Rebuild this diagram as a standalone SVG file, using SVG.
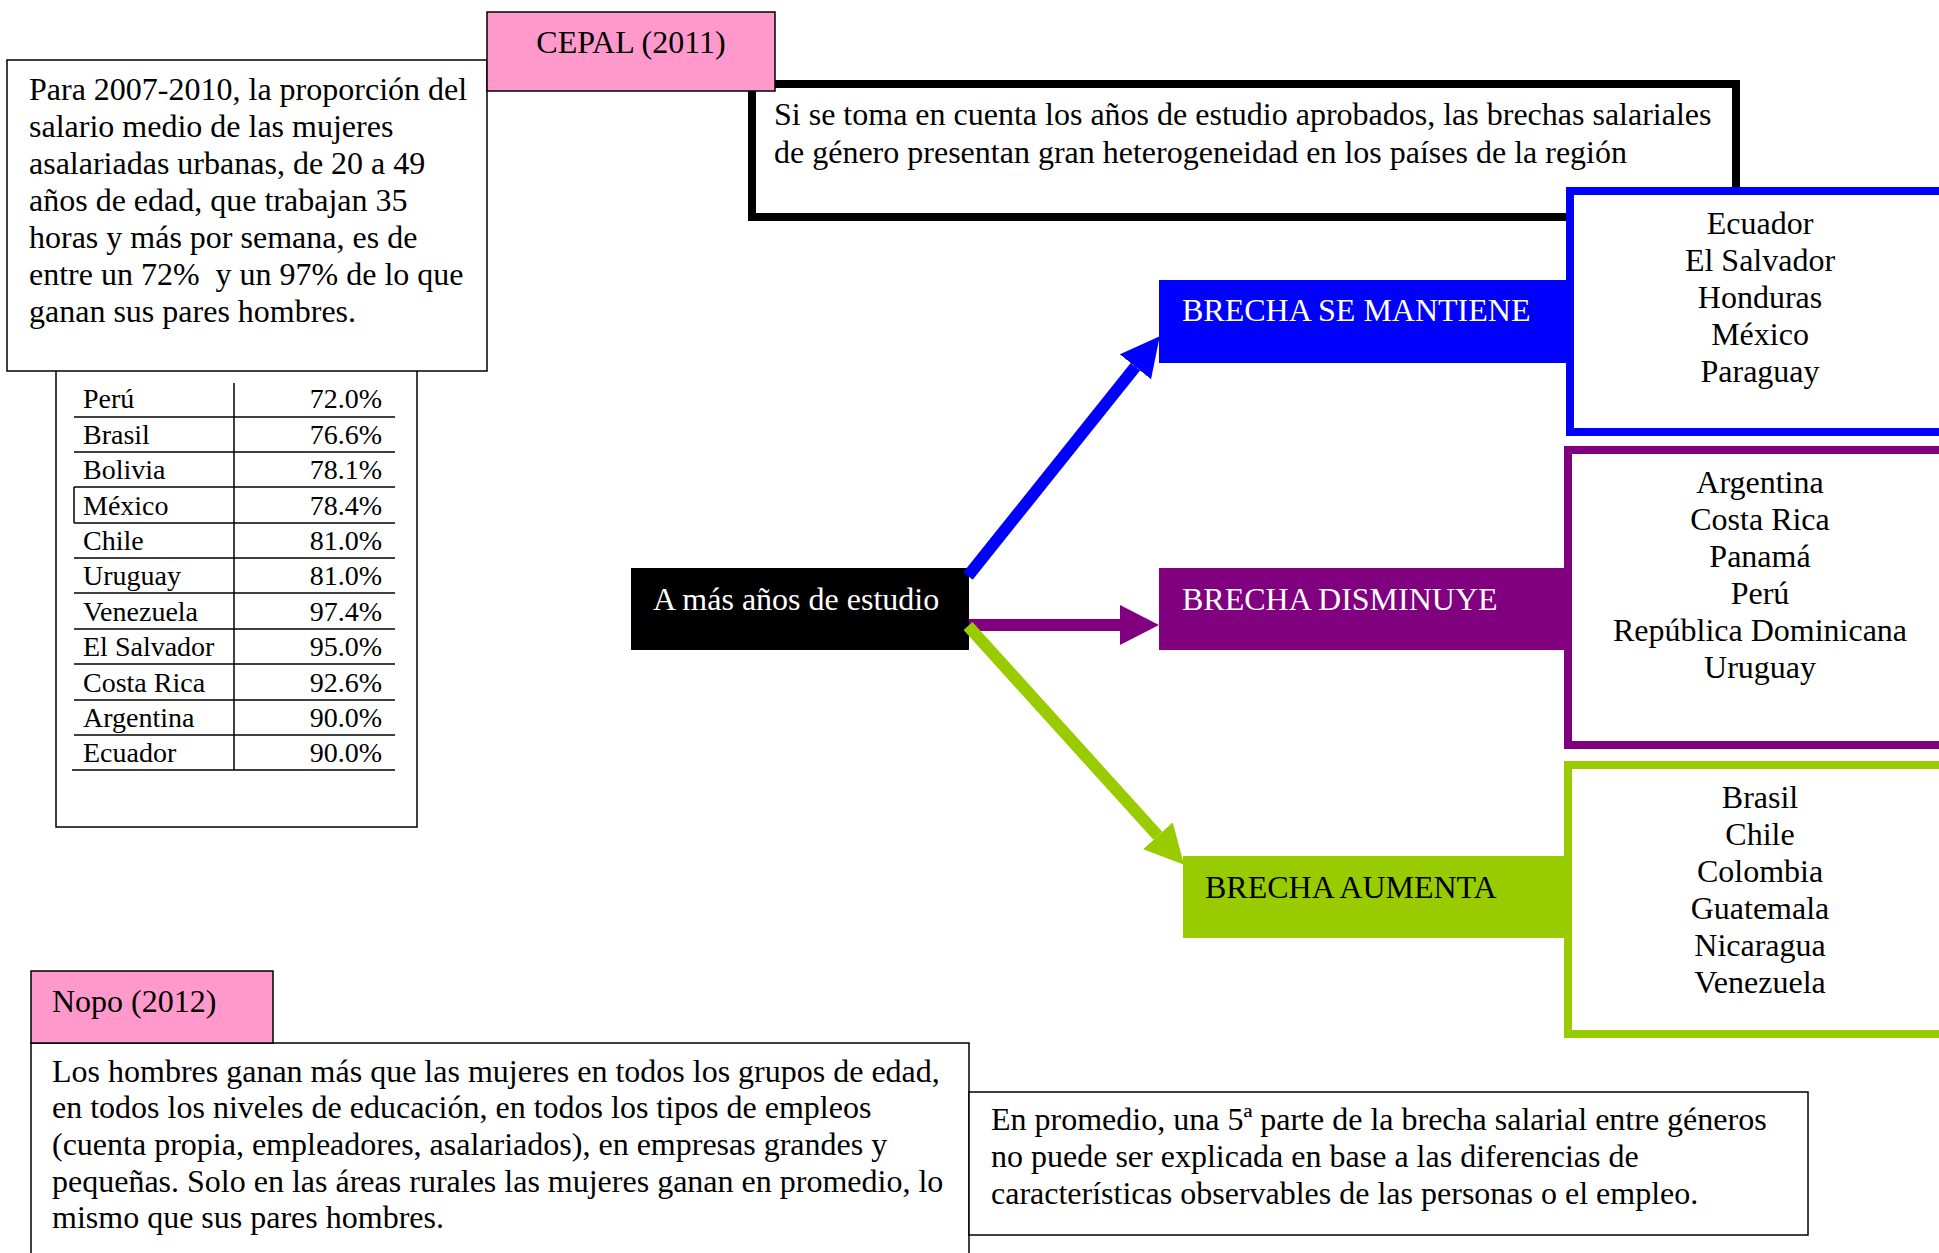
<svg xmlns="http://www.w3.org/2000/svg" width="1939" height="1253" viewBox="0 0 1939 1253">
<style>
.t{font-family:"Liberation Serif","Times New Roman",serif;font-size:32px;fill:#000}
.w{fill:#fff}
.tb{font-size:28px}
.c{text-anchor:middle}
.r{text-anchor:end}
.box{fill:#fff;stroke:#000;stroke-width:1.5}
.pink{fill:#FF99CC;stroke:#000;stroke-width:1.5}
.tl{stroke:#000;stroke-width:1.5;fill:none}
.conn{fill:none;stroke-width:12}
</style>
<defs>
<marker id="hb" markerUnits="userSpaceOnUse" viewBox="0 0 40 40" refX="0" refY="20" markerWidth="40" markerHeight="40" orient="auto"><path d="M0,0 L39,20 L0,40 z" fill="#0000FF"/></marker>
<marker id="hp" markerUnits="userSpaceOnUse" viewBox="0 0 40 40" refX="0" refY="20" markerWidth="40" markerHeight="40" orient="auto"><path d="M0,0 L39,20 L0,40 z" fill="#800080"/></marker>
<marker id="hg" markerUnits="userSpaceOnUse" viewBox="0 0 40 40" refX="0" refY="20" markerWidth="40" markerHeight="40" orient="auto"><path d="M0,0 L39,20 L0,40 z" fill="#99CC00"/></marker>
</defs>
<rect width="1939" height="1253" fill="#fff"/>

<g id="tabla">
<rect class="box" x="56" y="300" width="361" height="527"/>
<line class="tl" x1="234" y1="383" x2="234" y2="770"/>
<line class="tl" x1="74" y1="417" x2="395" y2="417"/>
<line class="tl" x1="74" y1="452" x2="395" y2="452"/>
<line class="tl" x1="74" y1="487" x2="395" y2="487"/>
<line class="tl" x1="74" y1="523" x2="395" y2="523"/>
<line class="tl" x1="74" y1="487" x2="74" y2="523"/>
<line class="tl" x1="74" y1="558" x2="395" y2="558"/>
<line class="tl" x1="74" y1="593" x2="395" y2="593"/>
<line class="tl" x1="74" y1="629" x2="395" y2="629"/>
<line class="tl" x1="74" y1="664" x2="395" y2="664"/>
<line class="tl" x1="74" y1="700" x2="395" y2="700"/>
<line class="tl" x1="74" y1="735" x2="395" y2="735"/>
<line class="tl" x1="72" y1="770" x2="395" y2="770"/>
<g class="t tb">
<text x="83" y="408">Perú</text><text class="r" x="382" y="408">72.0%</text>
<text x="83" y="444">Brasil</text><text class="r" x="382" y="444">76.6%</text>
<text x="83" y="479">Bolivia</text><text class="r" x="382" y="479">78.1%</text>
<text x="83" y="515">México</text><text class="r" x="382" y="515">78.4%</text>
<text x="83" y="550">Chile</text><text class="r" x="382" y="550">81.0%</text>
<text x="83" y="585">Uruguay</text><text class="r" x="382" y="585">81.0%</text>
<text x="83" y="621">Venezuela</text><text class="r" x="382" y="621">97.4%</text>
<text x="83" y="656">El Salvador</text><text class="r" x="382" y="656">95.0%</text>
<text x="83" y="692">Costa Rica</text><text class="r" x="382" y="692">92.6%</text>
<text x="83" y="727">Argentina</text><text class="r" x="382" y="727">90.0%</text>
<text x="83" y="762">Ecuador</text><text class="r" x="382" y="762">90.0%</text>
</g>
</g>

<g id="cepal-texto">
<rect class="box" x="7" y="60" width="480" height="311"/>
<g class="t">
<text x="29" y="100">Para 2007-2010, la proporción del</text>
<text x="29" y="137">salario medio de las mujeres</text>
<text x="29" y="174">asalariadas urbanas, de 20 a 49</text>
<text x="29" y="211">años de edad, que trabajan 35</text>
<text x="29" y="248">horas y más por semana, es de</text>
<text x="29" y="285" xml:space="preserve">entre un 72%  y un 97% de lo que</text>
<text x="29" y="322">ganan sus pares hombres.</text>
</g>
</g>

<g id="heterogeneidad">
<rect x="752" y="84" width="984" height="133" fill="#fff" stroke="#000" stroke-width="8"/>
<text class="t" x="774" y="125">Si se toma en cuenta los años de estudio aprobados, las brechas salariales</text>
<text class="t" x="774" y="163">de género presentan gran heterogeneidad en los países de la región</text>
</g>

<g id="cepal">
<rect class="pink" x="487" y="12" width="288" height="79"/>
<text class="t c" x="631" y="53">CEPAL (2011)</text>
</g>

<g id="paises-mantiene">
<rect x="1570" y="191" width="400" height="241" fill="#fff" stroke="#0000FF" stroke-width="8"/>
<g class="t c">
<text x="1760" y="234">Ecuador</text>
<text x="1760" y="271">El Salvador</text>
<text x="1760" y="308">Honduras</text>
<text x="1760" y="345">México</text>
<text x="1760" y="382">Paraguay</text>
</g>
</g>

<g id="paises-disminuye">
<rect x="1568" y="450" width="400" height="295" fill="#fff" stroke="#800080" stroke-width="8"/>
<g class="t c">
<text x="1760" y="493">Argentina</text>
<text x="1760" y="530">Costa Rica</text>
<text x="1760" y="567">Panamá</text>
<text x="1760" y="604">Perú</text>
<text x="1760" y="641">República Dominicana</text>
<text x="1760" y="678">Uruguay</text>
</g>
</g>

<g id="paises-aumenta">
<rect x="1568" y="765" width="400" height="269" fill="#fff" stroke="#99CC00" stroke-width="8"/>
<g class="t c">
<text x="1760" y="808">Brasil</text>
<text x="1760" y="845">Chile</text>
<text x="1760" y="882">Colombia</text>
<text x="1760" y="919">Guatemala</text>
<text x="1760" y="956">Nicaragua</text>
<text x="1760" y="993">Venezuela</text>
</g>
</g>

<g id="brecha-mantiene">
<rect x="1159" y="280" width="407" height="83" fill="#0000FF"/>
<text class="t w" x="1182" y="321">BRECHA SE MANTIENE</text>
</g>

<g id="brecha-disminuye">
<rect x="1159" y="568" width="407" height="82" fill="#800080"/>
<text class="t w" x="1182" y="610">BRECHA DISMINUYE</text>
</g>

<g id="brecha-aumenta">
<rect x="1183" y="856" width="383" height="82" fill="#99CC00"/>
<text class="t" x="1205" y="898">BRECHA AUMENTA</text>
</g>

<g id="estudio">
<rect x="631" y="568" width="338" height="82" fill="#000"/>
<text class="t w" x="653" y="610">A más años de estudio</text>
</g>

<g id="conectores">
<line class="conn" x1="968" y1="576" x2="1135.4" y2="366.8" stroke="#0000FF" marker-end="url(#hb)"/>
<line class="conn" x1="969" y1="625" x2="1120" y2="625" stroke="#800080" marker-end="url(#hp)"/>
<line class="conn" x1="968" y1="626" x2="1157.9" y2="835.8" stroke="#99CC00" marker-end="url(#hg)"/>
</g>

<g id="nopo-texto">
<rect class="box" x="31" y="1043" width="938" height="240"/>
<g class="t">
<text x="52" y="1082">Los hombres ganan más que las mujeres en todos los grupos de edad,</text>
<text x="52" y="1118">en todos los niveles de educación, en todos los tipos de empleos</text>
<text x="52" y="1155">(cuenta propia, empleadores, asalariados), en empresas grandes y</text>
<text x="52" y="1192">pequeñas. Solo en las áreas rurales las mujeres ganan en promedio, lo</text>
<text x="52" y="1228">mismo que sus pares hombres.</text>
</g>
</g>

<g id="nopo">
<rect class="pink" x="31" y="971" width="242" height="72"/>
<text class="t" x="52" y="1012">Nopo (2012)</text>
</g>

<g id="promedio">
<rect class="box" x="969" y="1092" width="839" height="143"/>
<g class="t">
<text x="991" y="1130">En promedio, una 5ª parte de la brecha salarial entre géneros</text>
<text x="991" y="1167">no puede ser explicada en base a las diferencias de</text>
<text x="991" y="1204">características observables de las personas o el empleo.</text>
</g>
</g>
</svg>
